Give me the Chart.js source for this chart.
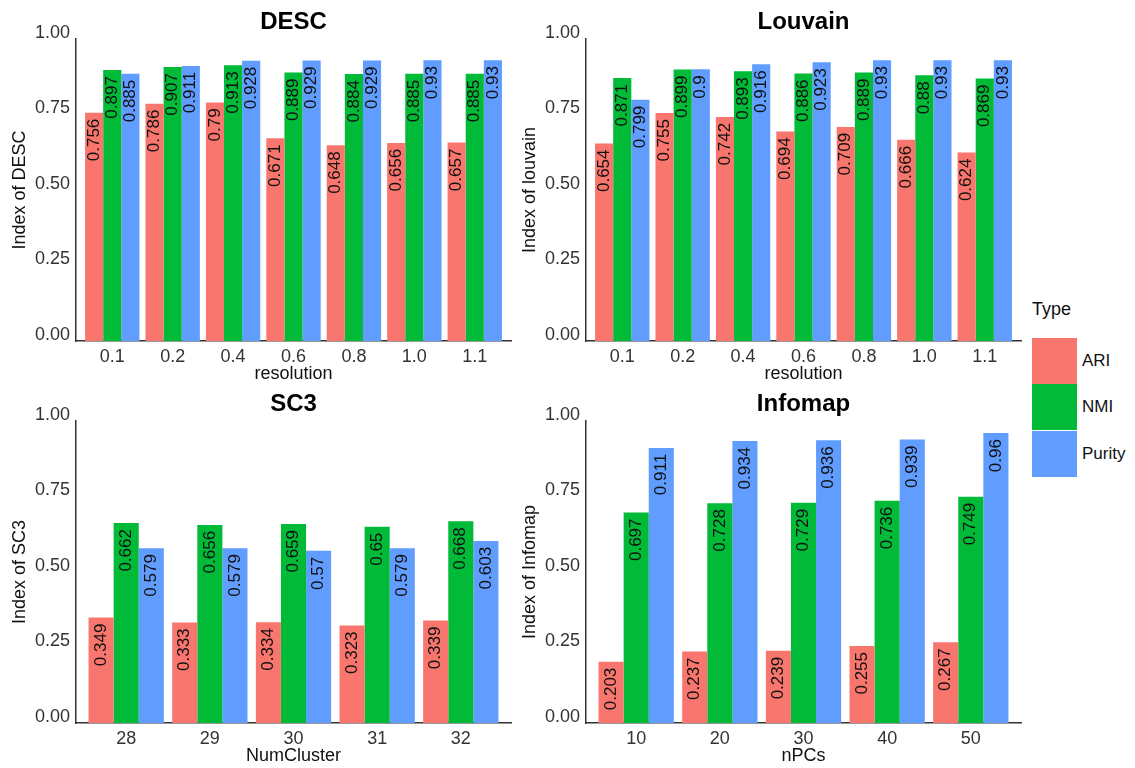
<!DOCTYPE html>
<html>
<head>
<meta charset="utf-8">
<script src="https://cdn.jsdelivr.net/npm/chart.js@4/dist/chart.umd.min.js"></script>
<style>
  body { margin: 0; background: #fff; font-family: "Liberation Sans", Arial, sans-serif; }
  #wrap { position: relative; width: 1135px; height: 768px; overflow: hidden; }
  .panel { position: absolute; width: 515px; height: 385px; }
  .legend-title { position: absolute; left: 1032px; top: 299px; font-size: 18px; color: #111; }
  .key { position: absolute; left: 1032px; width: 45px; height: 46px; }
  .key-label { position: absolute; left: 1082px; font-size: 17px; color: #111; line-height: 46px; }
</style>
</head>
<body>
<div id="wrap">
  <div class="panel" style="left:0;top:0"><canvas id="desc"></canvas></div>
  <div class="panel" style="left:510px;top:0"><canvas id="louvain"></canvas></div>
  <div class="panel" style="left:0;top:382px"><canvas id="sc3"></canvas></div>
  <div class="panel" style="left:510px;top:382px"><canvas id="infomap"></canvas></div>

  <div class="legend-title">Type</div>
  <div class="key" style="top:338px;background:#F8766D"></div>
  <div class="key-label" style="top:338px">ARI</div>
  <div class="key" style="top:384px;background:#00BA38"></div>
  <div class="key-label" style="top:384px">NMI</div>
  <div class="key" style="top:431px;background:#619CFF"></div>
  <div class="key-label" style="top:431px">Purity</div>
</div>
<script>
// data
const seriesNames = ['ARI', 'NMI', 'Purity'];
const seriesColors = ['#F8766D', '#00BA38', '#619CFF'];
const yTicks = [0, 0.25, 0.5, 0.75, 1];

const resolution = ['0.1', '0.2', '0.4', '0.6', '0.8', '1.0', '1.1'];
const descARI = [0.756, 0.786, 0.79, 0.671, 0.648, 0.656, 0.657];
const descNMI = [0.897, 0.907, 0.913, 0.889, 0.884, 0.885, 0.885];
const descPurity = [0.885, 0.911, 0.928, 0.929, 0.929, 0.93, 0.93];

const louvainARI = [0.654, 0.755, 0.742, 0.694, 0.709, 0.666, 0.624];
const louvainNMI = [0.871, 0.899, 0.893, 0.886, 0.889, 0.88, 0.869];
const louvainPurity = [0.799, 0.9, 0.916, 0.923, 0.93, 0.93, 0.93];

const numCluster = ['28', '29', '30', '31', '32'];
const sc3ARI = [0.349, 0.333, 0.334, 0.323, 0.339];
const sc3NMI = [0.662, 0.656, 0.659, 0.65, 0.668];
const sc3Purity = [0.579, 0.579, 0.57, 0.579, 0.603];

const nPCs = ['10', '20', '30', '40', '50'];
const infomapARI = [0.203, 0.237, 0.239, 0.255, 0.267];
const infomapNMI = [0.697, 0.728, 0.729, 0.736, 0.749];
const infomapPurity = [0.911, 0.934, 0.936, 0.939, 0.96];

const FONT = '"Liberation Sans", Arial, sans-serif';
Chart.defaults.font.family = FONT;

// value labels, rotated, hanging from the top of each bar
const barLabels = {
  id: 'barLabels',
  afterDatasetsDraw(chart) {
    const ctx = chart.ctx;
    ctx.save();
    ctx.font = '17px ' + FONT;
    ctx.fillStyle = '#111';
    ctx.textAlign = 'right';
    ctx.textBaseline = 'middle';
    chart.data.datasets.forEach((ds, i) => {
      chart.getDatasetMeta(i).data.forEach((bar, j) => {
        ctx.save();
        ctx.translate(bar.x, bar.y + 6);
        ctx.rotate(-Math.PI / 2);
        ctx.fillText(String(ds.data[j]), 0, 0);
        ctx.restore();
      });
    });
    ctx.restore();
  }
};

function makeChart(canvasId, title, yTitle, xTitle, labels, series) {
  const ctx = document.getElementById(canvasId).getContext('2d');
  return new Chart(ctx, {
    type: 'bar',
    data: {
      labels: labels,
      datasets: series.map((d, i) => ({
        label: seriesNames[i],
        data: d,
        backgroundColor: seriesColors[i],
        borderWidth: 0,
        categoryPercentage: 0.9,
        barPercentage: 1
      }))
    },
    options: {
      responsive: true,
      maintainAspectRatio: false,
      animation: false,
      layout: { padding: { left: 0, right: 4, top: 0, bottom: 0 } },
      plugins: {
        legend: { display: false },
        tooltip: { enabled: false },
        title: {
          display: true,
          text: title,
          fullSize: false,
          color: '#000',
          font: { size: 24, weight: 'bold' },
          padding: { top: 8, bottom: 2.2 }
        }
      },
      scales: {
        x: {
          offset: true,
          // ggplot style discrete padding (0.6 of a step on each side)
          afterBuildTicks: s => { s._startValue = -0.6; s._valueRange = s.getLabels().length + 0.2; },
          afterFit: s => { s.height = 44; },
          grid: { display: false, drawTicks: false },
          border: { display: true, color: '#333', width: 1.5 },
          ticks: { color: '#333', font: { size: 18 }, padding: 5, maxRotation: 0 },
          title: { display: true, text: xTitle, color: '#111', font: { size: 18 }, padding: { top: 0, bottom: 0 } }
        },
        y: {
          min: 0,
          max: 1,
          afterBuildTicks: s => { s.ticks = yTicks.map(v => ({ value: v })); },
          afterFit: s => { s.width = 76; },
          grid: { display: false, drawTicks: false },
          border: { display: true, color: '#333', width: 1.5 },
          ticks: { color: '#333', font: { size: 18 }, padding: 6, labelOffset: -6, callback: v => Number(v).toFixed(2) },
          title: { display: true, text: yTitle, color: '#111', font: { size: 18 }, padding: { top: 9, bottom: 0 } }
        }
      }
    },
    plugins: [barLabels]
  });
}

makeChart('desc', 'DESC', 'Index of DESC', 'resolution', resolution, [descARI, descNMI, descPurity]);
makeChart('louvain', 'Louvain', 'Index of louvain', 'resolution', resolution, [louvainARI, louvainNMI, louvainPurity]);
makeChart('sc3', 'SC3', 'Index of SC3', 'NumCluster', numCluster, [sc3ARI, sc3NMI, sc3Purity]);
makeChart('infomap', 'Infomap', 'Index of Infomap', 'nPCs', nPCs, [infomapARI, infomapNMI, infomapPurity]);
</script>
</body>
</html>
